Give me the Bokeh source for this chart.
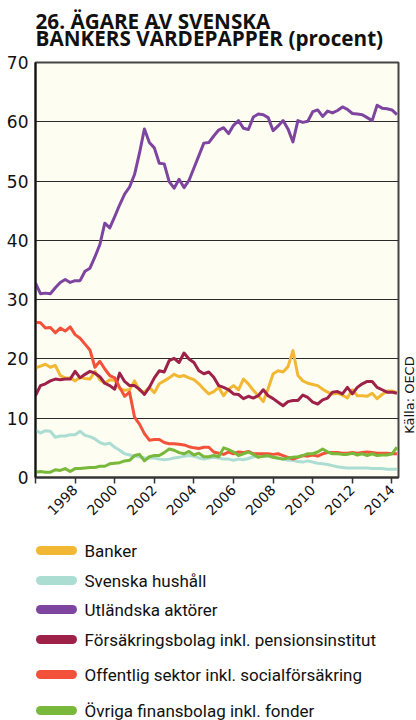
import math
from bokeh.plotting import figure
from bokeh.models import Range1d, FixedTicker
from bokeh.layouts import column, row
from bokeh.embed import file_html
from bokeh.resources import INLINE
from bokeh.core.properties import value

# ---------------- data (quarterly, starting 1996 Q1) ----------------
start_year = 1996.0
banker = [18.5, 18.8, 19.1, 18.6, 18.9, 17.2, 16.8, 16.8, 16.3, 16.9,
          16.7, 16.6, 17.9, 16.5, 15.9, 16.5, 16.4, 15.0, 14.7, 14.8,
          16.3, 14.7, 14.4, 15.2, 14.3, 15.8, 16.3, 16.8, 17.4, 17.0,
          17.2, 16.8, 16.5, 15.8, 14.9, 14.1, 14.5, 15.2, 13.8, 14.9,
          15.5, 14.8, 16.6, 15.8, 14.7, 13.8, 12.8, 15.0, 17.5, 18.0,
          17.8, 18.7, 21.4, 17.2, 16.3, 15.9, 15.7, 15.5, 14.9, 14.4,
          14.1, 14.2, 13.9, 13.4, 14.8, 13.8, 13.8, 13.7, 14.2, 13.3,
          14.0, 14.6, 14.6, 14.3]
hushall = [8.0, 7.5, 7.9, 7.8, 6.8, 7.0, 7.0, 7.2, 7.2, 7.8,
           7.1, 6.9, 6.5, 5.9, 5.6, 5.8, 5.1, 4.6, 4.0, 3.8,
           3.6, 3.5, 3.3, 3.3, 3.3, 3.1, 3.0, 3.1, 3.3, 3.4,
           3.6, 3.7, 3.6, 3.3, 3.1, 3.3, 3.4, 3.3, 3.1, 3.1,
           2.9, 3.1, 3.0, 3.2, 3.5, 3.7, 3.6, 3.6, 3.4, 3.2,
           3.1, 2.9, 2.9, 2.7, 2.6, 2.8, 2.6, 2.4, 2.3, 2.2,
           2.0, 1.8, 1.7, 1.6, 1.6, 1.6, 1.6, 1.6, 1.5, 1.5,
           1.5, 1.4, 1.4, 1.4]
utlandska = [32.8, 31.0, 31.1, 31.0, 32.0, 32.9, 33.4, 32.9, 33.2, 33.2,
             34.8, 35.3, 37.2, 39.3, 42.9, 42.1, 44.0, 46.0, 47.8, 49.0,
             51.1, 54.7, 58.8, 56.5, 55.6, 53.0, 52.9, 49.9, 48.8, 50.3,
             48.9, 50.1, 52.2, 54.3, 56.4, 56.5, 57.6, 58.6, 59.0, 58.0,
             59.4, 60.2, 58.9, 58.7, 60.8, 61.3, 61.2, 60.7, 58.5, 59.3,
             60.2, 58.8, 56.6, 60.2, 59.9, 60.1, 61.7, 62.0, 60.9, 61.8,
             61.5, 61.9, 62.5, 62.1, 61.4, 61.3, 61.2, 60.7, 60.2, 62.8,
             62.3, 62.2, 62.0, 61.2]
forsakring = [13.8, 15.5, 15.8, 16.3, 16.6, 16.5, 16.6, 16.6, 17.9, 16.8,
              17.4, 17.9, 17.6, 17.0, 15.9, 15.5, 14.9, 17.6, 16.2, 15.5,
              15.5, 14.9, 14.0, 15.2, 16.8, 18.0, 17.8, 19.7, 20.1, 19.4,
              21.0, 20.0, 19.4, 18.0, 17.5, 17.8, 16.9, 15.5, 15.2, 14.8,
              14.1, 14.0, 13.3, 13.7, 13.4, 13.8, 14.8, 13.8, 13.3, 12.7,
              12.1, 12.8, 13.0, 13.0, 13.9, 13.5, 12.7, 12.4, 13.1, 13.4,
              14.4, 14.5, 14.1, 15.2, 14.1, 15.2, 15.8, 16.2, 16.2, 15.2,
              14.8, 14.4, 14.4, 14.2]
offentlig = [26.2, 26.1, 25.2, 25.3, 24.4, 25.2, 24.7, 25.4, 24.1, 23.5,
             22.5, 21.5, 18.6, 19.6, 18.3, 17.2, 16.8, 15.2, 13.7, 14.4,
             10.2, 9.0, 7.4, 6.3, 6.4, 6.4, 5.9, 5.7, 5.7, 5.6,
             5.5, 5.2, 5.0, 4.9, 5.1, 5.1, 4.3, 4.1, 3.9, 4.3,
             4.0, 4.3, 4.2, 4.4, 4.0, 4.0, 4.0, 4.0, 3.9, 4.0,
             3.7, 3.4, 3.1, 3.4, 3.7, 3.6, 3.8, 3.6, 4.0, 4.2,
             4.2, 4.2, 4.1, 4.1, 4.2, 4.1, 4.2, 4.3, 4.2, 4.1,
             4.1, 4.1, 4.0, 4.0]
ovriga = [0.9, 1.0, 0.9, 0.9, 1.3, 1.2, 1.5, 1.0, 1.5, 1.5,
          1.6, 1.7, 1.7, 1.9, 1.9, 2.3, 2.4, 2.5, 2.8, 2.9,
          3.7, 3.9, 2.8, 3.5, 3.7, 3.7, 4.2, 4.8, 4.6, 4.2,
          4.0, 4.4, 3.8, 4.1, 3.5, 3.5, 3.7, 3.5, 5.0, 4.7,
          4.3, 3.7, 4.0, 4.3, 3.9, 3.4, 3.6, 3.7, 3.4, 3.3,
          3.1, 3.3, 3.4, 3.5, 3.7, 4.0, 4.0, 4.3, 4.8, 4.3,
          4.0, 4.0, 3.9, 3.9, 4.1, 3.8, 4.0, 3.7, 4.0, 3.7,
          3.8, 3.8, 4.0, 5.1]

series_names = ["Banker", "Svenska hushåll", "Utländska aktörer",
                "Försäkringsbolag inkl. pensionsinstitut",
                "Offentlig sektor inkl. socialförsäkring",
                "Övriga finansbolag inkl. fonder"]
series_values = [banker, hushall, utlandska, forsakring, offentlig, ovriga]
colors = ["#F2B834", "#ABDDD3", "#7E45A0", "#9E2149", "#F4513A", "#78B83B"]
y_ticks = [0, 10, 20, 30, 40, 50, 60, 70]
x_ticks = [1996, 1998, 2000, 2002, 2004, 2006, 2008, 2010, 2012, 2014]
title_lines = ["26. ÄGARE AV SVENSKA", "BANKERS VÄRDEPAPPER (procent)"]
source_text = "Källa: OECD"

years = [start_year + i / 4 for i in range(len(banker))]


def blank_fig(w, h):
    f = figure(width=w, height=h, x_range=Range1d(0, w), y_range=Range1d(h, 0),
               output_backend="svg", toolbar_location=None,
               x_axis_type=None, y_axis_type=None, min_border=0)
    f.outline_line_color = None
    f.background_fill_color = "white"
    f.border_fill_color = "white"
    return f


# ---------------- title ----------------
title_h = 52
tfig = blank_fig(416, title_h)
tfig.text(x=[35, 35], y=[20, 37.5], text=title_lines,
          text_font=value("Open Sans"), text_font_style="bold",
          text_font_size="20.7px", text_color="#111111",
          text_baseline="middle", text_align="left")

# ---------------- main chart ----------------
main_h = 475
p = figure(width=400, height=main_h, x_range=Range1d(1996, 2014.33),
           y_range=Range1d(0, 70), output_backend="svg", toolbar_location=None,
           min_border_left=35, min_border_right=2, min_border_top=10,
           min_border_bottom=50)
p.background_fill_color = "#FEFDF1"
p.border_fill_color = "white"
p.outline_line_color = "#444444"
p.outline_line_width = 2

p.xgrid.visible = False
p.ygrid.ticker = FixedTicker(ticks=y_ticks)
p.ygrid.grid_line_color = "#2a2a2a"
p.ygrid.grid_line_width = 1

p.yaxis.ticker = FixedTicker(ticks=y_ticks)
p.yaxis.major_tick_out = 0
p.yaxis.major_tick_in = 0
p.yaxis.minor_tick_out = 0
p.yaxis.minor_tick_in = 0
p.yaxis.axis_line_width = 2
p.yaxis.axis_line_color = "#111111"
p.yaxis.major_label_standoff = 7
p.yaxis.major_label_text_font = "DejaVu Sans"
p.yaxis.major_label_text_font_size = "17px"
p.yaxis.major_label_text_color = "#111111"

p.xaxis.ticker = FixedTicker(ticks=x_ticks)
p.xaxis.major_label_overrides = {1996: ""}
p.xaxis.major_tick_out = 6
p.xaxis.major_tick_in = 0
p.xaxis.minor_tick_out = 0
p.xaxis.minor_tick_in = 0
p.xaxis.axis_line_width = 2
p.xaxis.axis_line_color = "#333333"
p.xaxis.major_tick_line_color = "#333333"
p.xaxis.major_tick_line_width = 1.5
p.xaxis.major_label_orientation = math.pi / 4
p.xaxis.major_label_standoff = 4
p.xaxis.major_label_text_font = "DejaVu Sans"
p.xaxis.major_label_text_font_size = "14px"
p.xaxis.major_label_text_color = "#111111"

for vals, col in zip(series_values, colors):
    p.line(years, vals, line_color=col, line_width=3, line_join="round")

# ---------------- source (vertical text at right) ----------------
sfig = blank_fig(16, main_h)
sfig.text(x=[8.5], y=[main_h - 50], text=[source_text], angle=math.pi / 2,
          text_font=value("DejaVu Sans"), text_font_size="13px",
          text_color="#111111", text_baseline="middle", text_align="left")

# ---------------- legend ----------------
leg_h = 193
leg = blank_fig(416, leg_h)
row_y = [23, 53, 82, 112, 147, 183]
leg.segment(x0=[40] * 6, y0=row_y, x1=[72] * 6, y1=row_y,
            line_color=colors, line_width=9, line_cap="round")
leg.text(x=[84] * 6, y=row_y, text=series_names,
         text_font=value("Roboto"), text_font_size="17px",
         text_color="#111111", text_baseline="middle", text_align="left")

layout = column(tfig, row(p, sfig, spacing=0), leg, spacing=0)
open("out.html", "w").write(file_html(layout, INLINE))
